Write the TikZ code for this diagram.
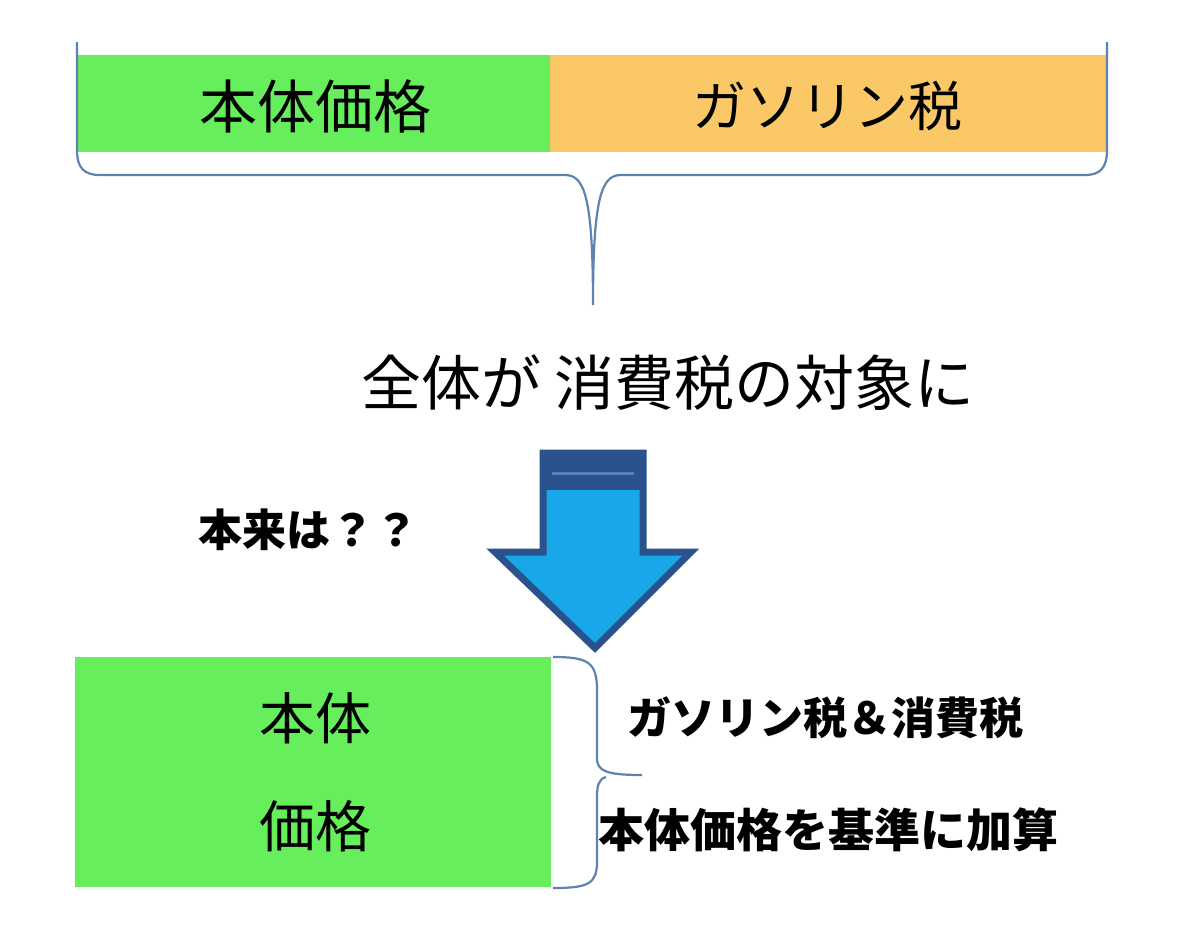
\documentclass[tikz,border=0pt]{standalone}
\usepackage{fontspec}
\newfontfamily\jp{Noto Sans CJK JP}
\definecolor{gbox}{RGB}{102,238,92}
\definecolor{obox}{RGB}{250,200,102}
\definecolor{brc}{RGB}{95,130,175}
\definecolor{arrfill}{RGB}{24,168,234}
\definecolor{arrdark}{RGB}{42,82,140}
\definecolor{arrline}{RGB}{80,130,190}
\tikzset{
  lbl/.style={inner sep=0pt, font=\jp},
  brace/.style={draw=brc, line width=1.1pt},
}
\begin{document}
\begin{tikzpicture}[x=0.5pt,y=-0.5pt]
\useasboundingbox (0,0) rectangle (1200,942);
% top bar
\fill[gbox] (77,55) rectangle (550,152);
\fill[obox] (550,55) rectangle (1107,152);
\node[lbl, font=\jp\fontsize{29pt}{30pt}\selectfont] (hontai) at (315,106) {本体価格};
\node[lbl, font=\jp\fontsize{27pt}{30pt}\selectfont] (gas) at (827,106) {ガソリン税};
% top brace
\draw[brace] (77,42) -- (77,150) .. controls (77,168) and (84,175) .. (100,175)
  -- (565,175) .. controls (584,175) and (593,195) .. (593,305)
  .. controls (593,195) and (602,175) .. (621,175)
  -- (1085,175) .. controls (1100,175) and (1107,168) .. (1107,150) -- (1107,42);
\coordinate (tip) at (593,305);
% middle text
\node[lbl, font=\jp\fontsize{30pt}{31pt}\selectfont] (zentai) at (668,383) {全体が 消費税の対象に};
% arrow
\filldraw[fill=arrfill, draw=arrdark, line width=3.5pt, line join=miter]
  (543,453) -- (643,453) -- (643,552) -- (691,552) -- (595,648) -- (495,552) -- (543,552) -- cycle;
\fill[arrdark] (543,453) rectangle (643,490);
\draw[arrline, line width=1.5pt] (552,473) -- (634,473);
\node[lbl, font=\jp\bfseries\fontsize{22pt}{24pt}\selectfont] (honrai) at (308,530) {本来は？？};
% bottom box
\fill[gbox] (75,657) rectangle (551,887);
\node[lbl, font=\jp\fontsize{28pt}{30pt}\selectfont] (hontai2) at (315,718) {本体};
\node[lbl, font=\jp\fontsize{28pt}{30pt}\selectfont] (kakaku2) at (315,826) {価格};
% bottom brace
\draw[brace] (553,657) .. controls (588,657) and (597,662) .. (597,690) -- (597,758)
  .. controls (597,771) and (606,775) .. (642,775);
\draw[brace] (606,777) .. controls (599,779) and (597,785) .. (597,797) -- (597,862)
  .. controls (597,884) and (588,888) .. (553,888);
\node[lbl, font=\jp\bfseries\fontsize{22pt}{24pt}\selectfont] (gas2) at (825,718) {ガソリン税＆消費税};
\node[lbl, font=\jp\bfseries\fontsize{23pt}{24pt}\selectfont] (kijun) at (828,830) {本体価格を基準に加算};
\end{tikzpicture}
\end{document}
